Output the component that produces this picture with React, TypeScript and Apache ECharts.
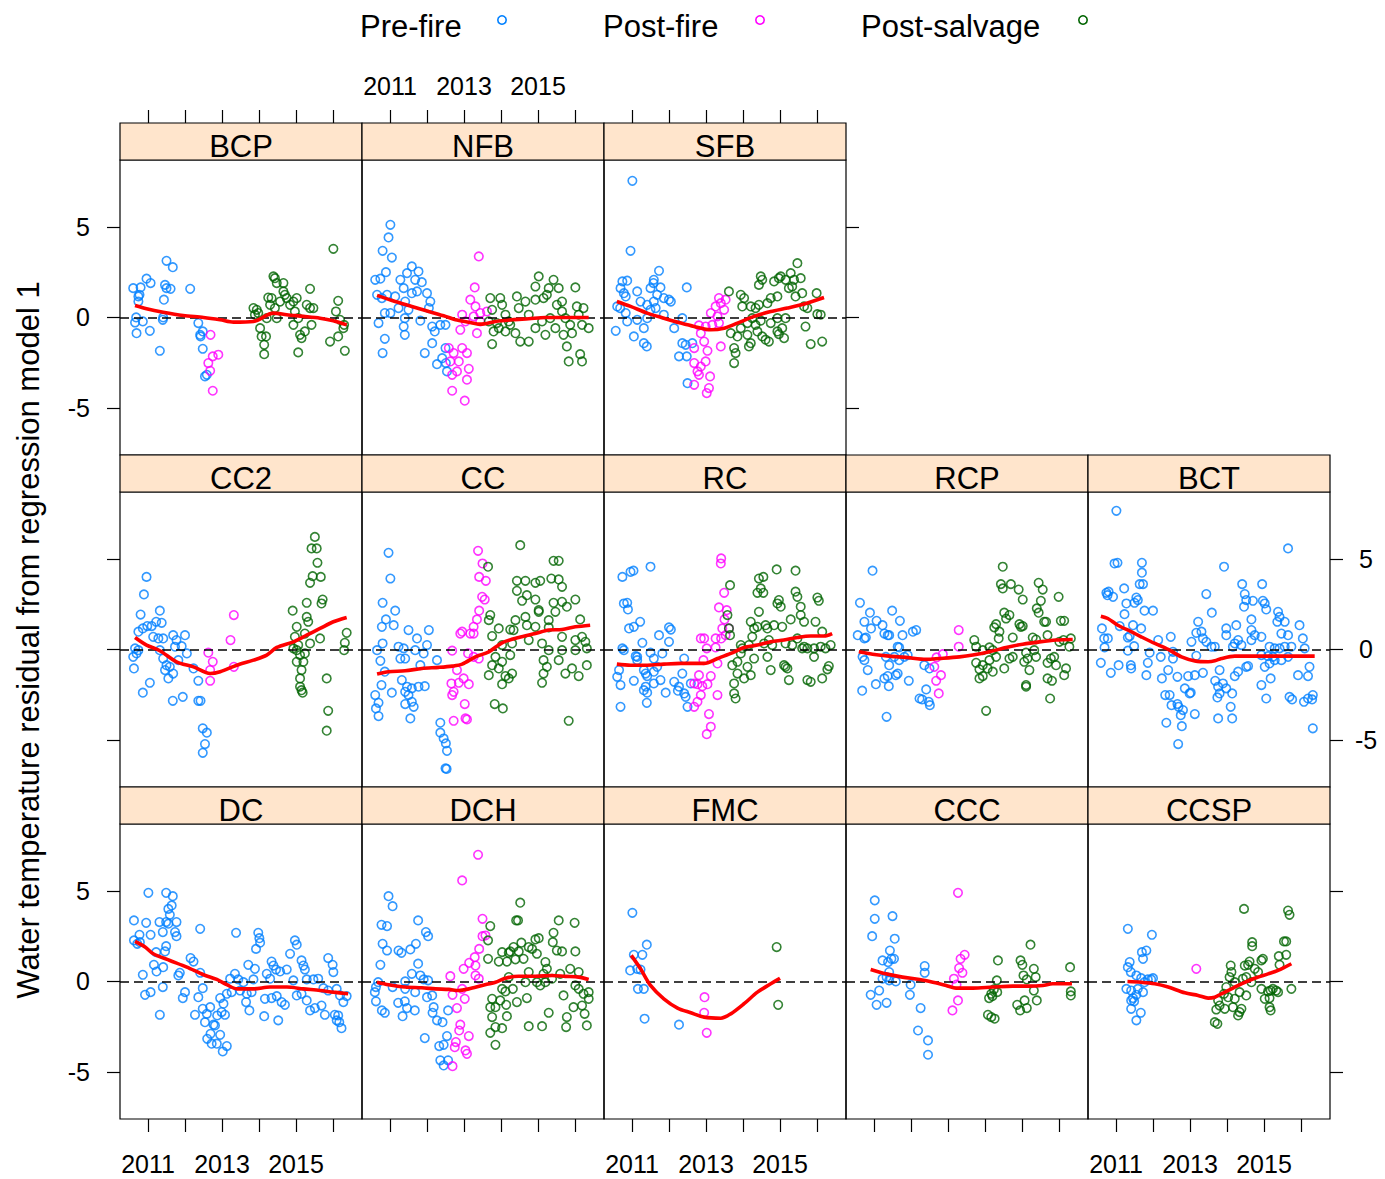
import React, { useEffect, useRef } from "react";
import * as echarts from "echarts";

type Pt = [number, number];

// ---- BCP ----
const bcpPre: Pt[] = [[2010.60,1.62],[2010.80,1.66],[2010.96,2.14],[2011.07,1.90],[2010.74,1.16],[2010.77,1.25],[2010.74,0.88],[2010.68,0.0],[2010.65,-0.28],[2010.86,-0.22],[2010.69,-0.87],[2011.05,-0.74],[2011.32,-1.84],[2011.40,-0.13],[2011.41,0.0],[2011.43,0.98],[2011.46,1.80],[2011.50,1.62],[2011.61,1.58],[2011.50,3.13],[2011.67,2.78],[2012.14,1.58],[2012.36,-0.31],[2012.48,-0.77],[2012.42,-1.05],[2012.48,-1.73],[2012.54,-3.26],[2012.59,-3.17],[2012.41,-0.96]];
const bcpPost: Pt[] = [[2012.69,-0.96],[2012.75,-2.15],[2012.90,-2.06],[2012.63,-2.52],[2012.68,-2.95],[2012.75,-4.05]];
const bcpSalvage: Pt[] = [[2013.85,0.52],[2013.94,0.42],[2013.89,0.15],[2013.98,0.24],[2014.03,-0.59],[2014.07,-1.05],[2014.19,-1.05],[2014.14,-1.51],[2014.14,-2.03],[2014.39,2.27],[2014.43,2.17],[2014.48,1.90],[2014.66,1.90],[2014.34,1.07],[2014.30,0.70],[2014.43,0.52],[2014.57,0.88],[2014.66,1.44],[2014.70,1.25],[2014.75,1.07],[2014.84,0.70],[2014.93,0.88],[2015.02,1.07],[2014.97,0.33],[2015.06,-0.04],[2014.93,-0.41],[2015.11,-0.96],[2015.15,-1.14],[2015.06,-1.93],[2015.38,1.58],[2015.29,0.70],[2015.38,0.52],[2015.47,0.52],[2015.42,-0.41],[2015.24,-0.77],[2016.01,3.79],[2016.14,0.92],[2016.08,0.33],[2016.19,-0.13],[2016.30,-0.41],[2016.28,-0.59],[2016.14,-1.05],[2015.92,-1.33],[2016.32,-1.84],[2014.21,-0.04],[2014.48,-0.04],[2014.25,1.10]];
const bcpFit: Pt[] = [[2010.65,0.66],[2010.96,0.48],[2011.41,0.29],[2011.95,0.11],[2012.50,0.0],[2012.95,-0.13],[2013.31,-0.26],[2013.85,-0.22],[2014.39,0.24],[2014.75,0.15],[2015.20,0.06],[2015.65,-0.04],[2016.01,-0.18],[2016.37,-0.41]];

// ---- NFB ----
const nfbPre: Pt[] = [[2011.01,5.12],[2010.96,4.42],[2010.80,3.68],[2011.05,3.31],[2010.60,2.08],[2010.74,2.14],[2010.89,2.50],[2010.65,1.25],[2010.78,1.07],[2010.92,1.25],[2010.86,0.24],[2010.69,-0.31],[2010.86,-1.18],[2010.80,-1.97],[2011.28,2.08],[2011.37,1.62],[2011.46,2.45],[2011.59,2.82],[2011.68,2.08],[2011.77,2.54],[2011.86,1.95],[2011.59,1.34],[2011.73,1.44],[2012.00,1.34],[2012.05,0.52],[2011.14,1.16],[2011.23,0.52],[2011.41,0.88],[2011.50,0.42],[2011.40,-0.04],[2011.37,-0.50],[2011.40,-0.96],[2011.82,-0.18],[2012.14,-0.50],[2012.21,-0.77],[2012.36,-0.41],[2012.50,-0.41],[2012.14,-1.42],[2011.94,-1.97],[2012.27,-2.58],[2012.50,-1.69],[2012.41,-2.25],[2012.54,-2.98],[2012.51,-2.52],[2011.01,0.24],[2012.09,0.88]];
const nfbPost: Pt[] = [[2013.40,3.37],[2013.29,1.66],[2013.17,0.98],[2013.31,0.61],[2012.95,0.15],[2013.26,0.06],[2013.44,0.24],[2013.04,-0.22],[2012.90,-0.68],[2013.35,-0.87],[2012.59,-1.69],[2012.72,-1.97],[2012.95,-1.69],[2013.08,-1.97],[2012.63,-2.43],[2012.86,-2.43],[2012.68,-3.17],[2012.81,-2.98],[2013.13,-2.84],[2013.08,-3.44],[2012.68,-4.05],[2013.02,-4.60],[2013.62,0.33],[2013.44,-0.22]];
const nfbSalvage: Pt[] = [[2013.71,1.07],[2013.98,1.07],[2014.03,0.70],[2013.76,0.42],[2013.67,-0.22],[2013.80,-0.77],[2013.76,-1.47],[2014.12,0.15],[2014.21,-0.22],[2014.43,1.16],[2014.48,0.52],[2014.66,0.88],[2014.75,0.15],[2014.93,1.71],[2015.02,2.27],[2014.93,0.98],[2015.15,1.07],[2015.24,1.25],[2015.29,1.62],[2015.42,2.08],[2015.56,1.62],[2015.65,0.88],[2015.51,0.70],[2015.65,0.33],[2015.74,-0.04],[2015.87,-0.41],[2016.01,1.66],[2016.05,0.61],[2016.10,0.15],[2016.19,-0.41],[2016.37,-0.59],[2015.78,-1.60],[2015.83,-2.43],[2016.14,-2.03],[2016.19,-2.43],[2014.75,-1.33],[2014.52,-1.33],[2015.20,-0.96],[2015.11,-0.22],[2014.93,-0.59],[2014.39,-0.87],[2014.12,-0.77],[2014.25,-0.41],[2013.94,-0.59],[2013.89,-0.31],[2015.33,-0.04],[2015.47,-0.59],[2015.69,-0.96],[2015.92,-0.87],[2016.23,0.52]];
const nfbFit: Pt[] = [[2010.65,1.22],[2011.14,0.88],[2011.59,0.61],[2012.05,0.33],[2012.50,0.06],[2012.77,-0.13],[2013.13,-0.26],[2013.44,-0.37],[2013.85,-0.22],[2014.30,-0.13],[2014.75,-0.07],[2015.20,0.0],[2015.65,0.0],[2016.37,0.0]];

// ---- SFB ----
const sfbPre: Pt[] = [[2011.01,7.55],[2010.96,3.68],[2010.56,-0.74],[2010.60,0.61],[2010.69,1.62],[2010.74,1.99],[2010.87,2.03],[2010.78,1.34],[2010.83,1.16],[2010.68,0.52],[2010.83,0.24],[2010.87,-0.22],[2011.14,1.44],[2011.23,0.88],[2011.05,-1.05],[2011.32,-0.59],[2011.32,-1.42],[2011.40,-1.60],[2011.41,-0.04],[2011.50,1.62],[2011.58,1.90],[2011.59,2.08],[2011.73,2.58],[2011.68,1.25],[2011.77,1.66],[2011.59,0.88],[2011.86,1.07],[2012.00,0.98],[2012.05,0.88],[2011.41,0.70],[2011.50,0.42],[2011.86,0.15],[2012.14,-0.59],[2012.36,-0.04],[2012.48,1.66],[2012.27,-2.15],[2012.36,-1.42],[2012.45,-1.51],[2012.50,-3.63],[2012.63,-1.42],[2012.48,-2.15],[2011.14,-0.13],[2011.64,0.52]];
const sfbPost: Pt[] = [[2013.35,1.07],[2013.53,0.98],[2013.26,0.61],[2013.49,0.42],[2013.13,0.24],[2013.31,0.06],[2013.17,-0.41],[2013.35,-0.31],[2012.81,-0.44],[2012.99,-0.50],[2012.86,-0.87],[2012.95,-1.33],[2012.68,-1.69],[2013.04,-1.84],[2013.40,-1.60],[2012.68,-2.52],[2012.99,-2.43],[2012.86,-2.71],[2012.77,-2.98],[2012.81,-3.17],[2013.11,-3.26],[2012.68,-3.72],[2013.08,-3.90],[2013.02,-4.18],[2013.40,0.79]];
const sfbSalvage: Pt[] = [[2013.62,1.44],[2013.94,1.25],[2014.03,1.07],[2013.98,0.61],[2014.21,0.61],[2014.34,0.52],[2014.43,0.70],[2014.48,2.27],[2014.43,1.80],[2014.52,2.08],[2014.66,0.79],[2014.75,1.07],[2014.84,1.99],[2014.93,1.16],[2014.97,2.17],[2015.02,2.27],[2015.15,2.08],[2015.24,1.62],[2015.29,2.45],[2015.33,1.71],[2015.38,2.08],[2015.47,3.00],[2015.56,2.17],[2015.60,1.34],[2015.42,1.16],[2015.65,0.61],[2015.74,0.52],[2015.99,1.34],[2016.01,0.18],[2016.10,0.15],[2015.69,-0.50],[2015.83,-1.47],[2016.14,-1.33],[2013.67,-0.87],[2013.76,-1.69],[2013.80,-1.97],[2013.76,-2.52],[2013.85,-1.05],[2013.94,-0.59],[2014.12,-0.96],[2014.21,-1.42],[2014.16,-1.60],[2014.34,-0.41],[2014.39,-0.77],[2014.52,-1.05],[2014.61,-1.23],[2014.70,-1.33],[2014.93,-0.77],[2015.06,-0.59],[2015.11,-1.14],[2014.97,-0.92],[2015.15,-0.04],[2014.93,-0.04],[2014.75,-0.31],[2014.48,-0.18],[2014.25,-0.04],[2014.12,-0.31]];
const sfbFit: Pt[] = [[2010.59,0.88],[2010.96,0.61],[2011.41,0.24],[2011.86,-0.04],[2012.32,-0.31],[2012.68,-0.50],[2013.13,-0.68],[2013.49,-0.59],[2013.85,-0.31],[2014.30,0.06],[2014.75,0.33],[2015.20,0.52],[2015.65,0.74],[2016.19,1.10]];

// ---- CC2 ----
const cc2Pre: Pt[] = [[2010.96,4.01],[2010.89,3.04],[2010.80,1.93],[2010.74,0.98],[2010.86,1.16],[2010.98,1.29],[2011.10,1.29],[2011.22,1.53],[2011.37,1.47],[2011.32,2.14],[2011.14,0.70],[2011.28,0.61],[2011.41,0.61],[2011.68,0.79],[2011.77,0.52],[2012.00,0.79],[2011.73,0.15],[2011.91,0.18],[2010.65,0.06],[2010.74,-0.04],[2010.60,-0.41],[2010.69,-0.22],[2010.62,-1.05],[2011.05,-1.84],[2010.86,-2.39],[2011.32,-0.04],[2011.41,-0.50],[2011.50,-0.87],[2011.59,-0.96],[2011.68,-1.33],[2011.55,-1.60],[2011.82,-0.59],[2012.05,-0.22],[2012.23,-1.05],[2012.36,-1.73],[2011.67,-2.84],[2011.94,-2.62],[2012.36,-2.84],[2012.42,-2.84],[2012.48,-4.36],[2012.59,-4.60],[2012.54,-5.23],[2012.48,-5.71],[2011.46,-1.14]];
const cc2Post: Pt[] = [[2013.32,1.90],[2013.23,0.52],[2012.63,-0.18],[2012.75,-0.68],[2012.68,-1.14],[2012.68,-1.73],[2013.32,-0.96]];
const cc2Salvage: Pt[] = [[2015.51,6.22],[2015.42,5.58],[2015.56,5.58],[2015.58,4.79],[2015.45,4.05],[2015.67,4.01],[2015.38,3.68],[2015.29,2.58],[2015.72,2.76],[2015.69,2.54],[2014.91,2.14],[2015.29,1.80],[2015.33,1.53],[2015.02,1.25],[2015.38,0.33],[2015.65,0.61],[2014.97,0.70],[2014.93,0.06],[2015.02,-0.04],[2015.06,0.24],[2015.11,-0.31],[2015.24,-0.22],[2015.02,-0.68],[2015.20,-0.68],[2015.15,-1.14],[2015.11,-1.60],[2015.11,-2.06],[2015.15,-2.25],[2015.18,-2.39],[2015.83,-1.60],[2015.87,-3.39],[2015.83,-4.49],[2016.37,0.92],[2016.32,0.37],[2016.30,-0.04],[2015.24,0.88]];
const cc2Fit: Pt[] = [[2010.65,0.66],[2010.96,0.24],[2011.32,-0.07],[2011.77,-0.68],[2012.23,-0.96],[2012.68,-1.33],[2012.95,-1.23],[2013.40,-0.87],[2013.85,-0.59],[2014.21,-0.31],[2014.48,0.11],[2014.93,0.42],[2015.29,0.79],[2015.65,1.16],[2016.01,1.53],[2016.37,1.77]];

// ---- CC ----
const ccPre: Pt[] = [[2010.96,5.34],[2011.01,3.92],[2010.80,2.58],[2011.14,2.14],[2010.89,1.66],[2011.10,1.34],[2010.78,1.25],[2010.80,0.33],[2011.50,1.07],[2011.73,0.61],[2012.05,1.07],[2011.23,0.15],[2011.37,0.06],[2011.28,-0.50],[2011.41,-0.50],[2011.68,-0.04],[2011.91,-0.22],[2012.00,0.24],[2011.82,-0.87],[2012.27,-0.59],[2010.74,-0.63],[2010.86,-1.23],[2010.77,-1.97],[2010.60,-2.52],[2010.69,-2.95],[2010.62,-3.26],[2010.69,-3.68],[2011.05,-2.39],[2011.32,-1.69],[2011.46,-2.06],[2011.41,-2.34],[2011.50,-2.52],[2011.59,-2.15],[2011.77,-2.06],[2011.94,-2.03],[2011.41,-3.02],[2011.59,-2.89],[2011.64,-3.17],[2011.55,-3.81],[2012.36,-4.05],[2012.36,-4.60],[2012.45,-4.92],[2012.51,-5.19],[2012.54,-5.60],[2012.50,-6.57],[2012.53,-6.60],[2010.65,-0.04]];
const ccPost: Pt[] = [[2013.38,5.45],[2013.50,4.75],[2013.41,4.01],[2013.59,3.79],[2013.49,2.91],[2013.56,2.76],[2013.41,2.14],[2013.35,1.66],[2013.26,1.25],[2013.17,0.88],[2012.95,0.98],[2012.90,0.88],[2012.68,-0.07],[2013.11,-0.22],[2013.26,-0.41],[2013.40,-0.50],[2012.81,-1.14],[2012.99,-1.60],[2012.66,-1.88],[2012.86,-1.84],[2012.72,-2.34],[2012.68,-2.52],[2013.13,-1.92],[2013.02,-3.02],[2012.72,-3.94],[2013.04,-3.81],[2013.08,-3.87],[2013.26,0.88]];
const ccSalvage: Pt[] = [[2014.52,5.76],[2013.65,4.57],[2014.43,3.79],[2014.66,3.79],[2014.93,3.68],[2015.06,3.79],[2015.36,3.92],[2015.56,3.87],[2015.42,4.90],[2015.56,4.90],[2015.65,3.46],[2014.43,3.24],[2014.70,3.00],[2014.93,2.76],[2014.57,2.69],[2015.02,2.17],[2015.42,2.58],[2015.65,2.63],[2015.78,2.36],[2016.01,2.76],[2013.71,1.90],[2013.67,1.62],[2013.94,1.16],[2014.39,1.62],[2014.66,1.80],[2014.34,1.07],[2014.25,1.10],[2014.70,1.34],[2014.93,1.25],[2015.29,1.62],[2015.47,2.08],[2016.14,1.66],[2013.76,0.74],[2014.03,0.24],[2014.30,0.33],[2014.75,0.52],[2015.11,0.33],[2015.29,1.22],[2015.65,0.70],[2016.01,0.52],[2016.19,0.70],[2016.28,0.42],[2016.32,0.06],[2016.01,-0.04],[2015.65,-0.04],[2015.29,-0.04],[2013.85,-0.41],[2014.03,-0.68],[2014.25,-0.31],[2013.76,-0.87],[2013.94,-1.05],[2013.67,-1.42],[2014.12,-1.47],[2014.30,-1.33],[2014.21,-1.60],[2014.03,-1.92],[2015.15,-0.59],[2015.24,-0.96],[2015.15,-1.33],[2015.11,-1.84],[2015.74,-1.33],[2015.92,-1.05],[2016.10,-1.47],[2016.32,-0.87],[2015.56,-0.59],[2013.83,-3.02],[2014.05,-3.26],[2015.83,-3.94],[2015.02,2.08]];
const ccFit: Pt[] = [[2010.65,-1.36],[2010.96,-1.23],[2011.41,-1.18],[2011.86,-1.05],[2012.32,-0.99],[2012.68,-0.92],[2012.95,-0.81],[2013.31,-0.41],[2013.67,-0.13],[2014.03,0.37],[2014.48,0.66],[2014.93,0.88],[2015.29,1.07],[2015.65,1.10],[2016.01,1.25],[2016.41,1.34]];

// ---- RC ----
const rcPre: Pt[] = [[2010.74,4.01],[2010.96,4.29],[2011.04,4.35],[2011.50,4.57],[2010.78,2.54],[2010.87,2.58],[2010.89,2.21],[2010.92,1.16],[2011.05,1.25],[2011.22,1.53],[2011.28,0.37],[2010.78,-0.04],[2010.74,0.06],[2011.14,-0.41],[2011.14,-0.59],[2011.10,-0.37],[2011.50,-0.18],[2011.73,0.79],[2012.00,0.42],[2012.05,1.10],[2012.00,1.22],[2011.82,-0.22],[2012.41,-0.50],[2011.59,-0.50],[2011.32,-1.14],[2011.37,-1.33],[2011.41,-1.47],[2011.59,-1.23],[2011.68,-0.96],[2010.65,-1.14],[2010.60,-1.51],[2010.69,-1.97],[2011.05,-1.73],[2011.37,-2.06],[2011.41,-2.39],[2011.32,-2.25],[2011.59,-1.88],[2011.77,-1.69],[2011.91,-2.39],[2012.14,-1.79],[2012.27,-2.06],[2012.36,-1.33],[2012.41,-2.43],[2012.45,-2.62],[2012.50,-3.17],[2011.40,-2.95],[2010.69,-3.17],[2012.59,-1.88],[2012.24,-2.28]];
const rcPost: Pt[] = [[2013.41,5.03],[2013.40,4.75],[2013.49,3.13],[2013.35,2.32],[2013.56,2.17],[2013.50,1.66],[2013.44,1.16],[2012.86,0.61],[2012.95,0.61],[2013.26,0.61],[2013.41,0.61],[2013.02,0.06],[2013.26,0.11],[2012.93,-0.59],[2013.31,-0.77],[2012.81,-1.42],[2013.13,-1.47],[2012.68,-1.88],[2012.77,-1.92],[2012.90,-2.03],[2013.04,-1.92],[2012.86,-2.52],[2012.77,-2.89],[2012.68,-3.17],[2013.31,-2.52],[2013.08,-3.57],[2013.13,-4.27],[2013.02,-4.68],[2013.62,1.16],[2013.53,0.79]];
const rcSalvage: Pt[] = [[2013.65,3.55],[2014.43,3.92],[2014.55,4.01],[2014.91,4.42],[2015.42,4.35],[2014.39,3.13],[2014.55,3.13],[2014.48,3.37],[2014.97,2.73],[2014.93,2.54],[2015.02,2.36],[2015.42,3.19],[2015.47,2.91],[2015.56,2.36],[2016.01,2.87],[2016.05,2.69],[2013.58,1.90],[2013.62,1.16],[2013.65,0.79],[2014.43,2.08],[2014.21,1.53],[2014.30,1.16],[2014.39,1.25],[2014.61,1.34],[2014.66,1.16],[2014.84,1.34],[2015.06,1.25],[2015.29,1.66],[2015.56,1.90],[2015.65,1.53],[2015.96,1.53],[2016.14,0.98],[2013.94,0.24],[2013.98,0.06],[2014.16,0.24],[2014.25,0.70],[2014.57,0.33],[2014.70,0.52],[2014.79,0.24],[2015.15,0.33],[2015.33,0.24],[2015.47,0.61],[2015.65,0.15],[2015.74,0.06],[2015.92,0.06],[2016.10,0.15],[2016.23,0.06],[2016.37,0.24],[2013.94,-0.22],[2013.85,-0.68],[2013.71,-0.87],[2013.85,-1.33],[2013.76,-1.88],[2013.76,-2.43],[2013.80,-2.71],[2014.12,-0.96],[2014.21,-1.42],[2014.30,-0.50],[2014.03,-1.60],[2014.66,-0.41],[2014.75,-1.14],[2015.11,-0.87],[2015.15,-0.96],[2015.20,-1.05],[2015.24,-1.69],[2015.74,-1.69],[2015.83,-1.79],[2016.14,-1.60],[2016.32,-0.92],[2016.28,-1.10],[2015.92,-0.41],[2015.60,0.06]];
const rcFit: Pt[] = [[2010.59,-0.81],[2010.96,-0.87],[2011.41,-0.87],[2011.86,-0.81],[2012.32,-0.77],[2012.68,-0.77],[2012.95,-0.77],[2013.31,-0.50],[2013.67,-0.22],[2014.03,0.11],[2014.39,0.24],[2014.75,0.42],[2015.11,0.52],[2015.47,0.66],[2015.83,0.74],[2016.19,0.74],[2016.41,0.88]];

// ---- RCP ----
const rcpPre: Pt[] = [[2010.96,4.35],[2010.62,2.58],[2010.89,2.03],[2011.07,1.58],[2011.49,2.14],[2011.70,1.58],[2010.74,1.53],[2011.23,1.34],[2010.92,1.16],[2010.56,0.79],[2010.74,0.61],[2010.78,0.66],[2011.28,0.88],[2011.37,0.79],[2011.41,0.79],[2011.77,0.79],[2012.05,0.98],[2012.14,1.07],[2011.64,0.15],[2011.68,0.11],[2010.69,-0.41],[2010.74,-0.59],[2010.83,-1.14],[2011.32,-0.41],[2011.41,-0.87],[2011.55,-0.41],[2011.68,-0.59],[2011.82,-0.41],[2011.91,-0.31],[2011.64,-1.33],[2011.59,-1.42],[2011.37,-1.47],[2011.28,-1.60],[2011.40,-2.03],[2011.05,-1.92],[2010.68,-2.28],[2011.94,-1.73],[2012.36,-0.87],[2012.50,-1.05],[2012.41,-2.21],[2012.23,-2.71],[2012.30,-2.76],[2012.48,-2.89],[2012.51,-3.08],[2011.34,-3.72]];
const rcpPost: Pt[] = [[2013.29,1.07],[2013.29,0.15],[2012.86,-0.26],[2012.69,-0.44],[2012.63,-0.96],[2012.81,-1.42],[2012.68,-1.73],[2012.75,-2.43]];
const rcpSalvage: Pt[] = [[2014.48,4.57],[2014.43,3.61],[2014.48,3.37],[2014.70,3.61],[2014.91,3.31],[2015.02,2.76],[2015.45,3.68],[2015.56,3.31],[2015.51,2.69],[2015.40,2.27],[2015.45,2.03],[2015.99,2.91],[2016.05,1.58],[2016.14,1.58],[2014.52,2.03],[2014.57,1.71],[2014.66,1.90],[2014.30,1.40],[2014.25,1.22],[2014.39,0.98],[2014.37,0.61],[2014.75,0.66],[2014.93,1.40],[2014.97,1.25],[2015.02,1.29],[2015.29,0.66],[2015.38,0.55],[2015.60,1.53],[2015.65,1.53],[2015.69,0.79],[2016.01,0.42],[2016.12,0.52],[2016.32,0.61],[2016.28,0.15],[2013.71,0.52],[2013.76,0.15],[2013.94,-0.04],[2014.12,0.11],[2014.21,-0.04],[2014.30,-0.41],[2014.12,-0.59],[2013.94,-0.87],[2013.76,-0.74],[2013.85,-1.10],[2014.07,-1.05],[2014.21,-1.23],[2013.94,-1.47],[2013.85,-1.60],[2014.52,-1.05],[2014.66,-0.50],[2014.75,-0.41],[2015.06,-0.68],[2015.15,-0.50],[2015.20,-1.14],[2015.38,-0.41],[2015.33,-0.04],[2015.11,-0.18],[2015.69,-0.74],[2015.78,-0.50],[2015.92,-0.87],[2015.87,-0.41],[2016.19,-1.05],[2016.14,-1.42],[2015.69,-1.60],[2015.81,-1.73],[2015.11,-1.97],[2015.11,-2.06],[2015.76,-2.71],[2014.03,-3.39]];
const rcpFit: Pt[] = [[2010.59,-0.13],[2010.96,-0.26],[2011.41,-0.37],[2011.86,-0.44],[2012.41,-0.55],[2012.77,-0.50],[2013.31,-0.41],[2013.67,-0.31],[2014.12,-0.13],[2014.57,0.11],[2015.02,0.29],[2015.47,0.42],[2015.92,0.52],[2016.37,0.55]];

// ---- BCT ----
const bctPre: Pt[] = [[2011.01,7.66],[2015.65,5.58],[2010.96,4.75],[2011.04,4.79],[2011.70,4.79],[2011.70,4.24],[2013.92,4.57],[2011.64,3.61],[2011.73,3.61],[2014.41,3.61],[2014.95,3.61],[2010.74,3.13],[2010.80,3.19],[2010.77,3.00],[2010.92,2.91],[2011.22,3.37],[2011.55,2.87],[2011.59,2.73],[2011.50,2.58],[2011.28,2.54],[2013.44,3.06],[2014.48,3.06],[2014.52,2.73],[2014.46,2.36],[2014.70,2.69],[2014.97,2.69],[2015.02,2.54],[2015.06,2.21],[2011.77,2.14],[2012.00,2.14],[2011.23,1.95],[2013.59,2.03],[2015.38,2.08],[2015.42,1.80],[2014.66,1.66],[2010.62,1.16],[2011.10,1.29],[2011.46,1.34],[2011.68,1.16],[2013.22,1.53],[2015.36,1.53],[2015.56,1.53],[2015.96,1.34],[2013.98,1.16],[2014.25,1.34],[2010.68,0.61],[2010.78,0.61],[2011.37,0.74],[2011.32,0.66],[2012.14,0.52],[2012.48,0.70],[2013.04,0.42],[2013.17,0.92],[2013.31,0.98],[2013.35,0.61],[2013.44,0.42],[2013.58,0.15],[2013.67,0.15],[2013.98,0.79],[2014.30,0.52],[2014.39,0.24],[2014.66,1.07],[2014.75,0.79],[2014.93,0.70],[2014.66,0.52],[2015.47,0.88],[2015.65,0.79],[2016.05,0.61],[2014.21,0.33],[2014.16,0.15],[2015.15,0.15],[2015.29,0.06],[2015.42,0.06],[2015.56,0.15],[2015.74,0.15],[2016.10,0.06],[2010.69,0.11],[2011.49,0.18],[2011.32,-0.07],[2011.91,-0.18],[2012.54,-0.13],[2010.59,-0.74],[2010.86,-1.29],[2011.07,-0.87],[2011.40,-0.87],[2011.41,-1.05],[2011.86,-0.74],[2011.82,-1.42],[2012.21,-0.41],[2012.41,-1.14],[2012.54,-0.50],[2012.24,-1.60],[2012.66,-1.51],[2012.95,-1.47],[2013.13,-1.42],[2013.17,-0.35],[2013.35,-1.29],[2013.80,-1.14],[2014.21,-1.47],[2014.30,-1.23],[2014.52,-0.96],[2014.57,-0.92],[2014.93,-0.31],[2015.11,-0.37],[2015.24,-0.41],[2015.02,-0.96],[2015.15,-0.77],[2015.29,-0.59],[2015.47,-0.59],[2015.65,-0.41],[2015.18,-1.60],[2014.93,-1.97],[2015.06,-2.71],[2015.92,-1.42],[2016.19,-1.47],[2016.23,-0.96],[2013.68,-1.73],[2013.76,-2.06],[2013.80,-2.43],[2013.89,-1.88],[2013.98,-2.15],[2014.14,-2.43],[2013.74,-2.65],[2014.10,-3.17],[2013.76,-3.81],[2014.14,-3.81],[2012.33,-2.52],[2012.45,-2.52],[2012.50,-3.08],[2012.66,-3.02],[2012.69,-3.17],[2012.81,-3.35],[2012.75,-3.63],[2012.86,-2.15],[2012.99,-2.43],[2013.02,-2.39],[2013.13,-3.57],[2012.36,-4.05],[2012.78,-4.24],[2012.68,-5.23],[2015.69,-2.62],[2015.76,-2.76],[2016.08,-2.89],[2016.19,-2.71],[2016.32,-2.52],[2016.30,-2.76],[2016.32,-4.36]];
const bctPost: Pt[] = [];
const bctSalvage: Pt[] = [];
const bctFit: Pt[] = [[2010.59,1.84],[2010.78,1.71],[2011.05,1.34],[2011.41,0.98],[2011.68,0.70],[2012.05,0.33],[2012.41,0.0],[2012.77,-0.41],[2013.13,-0.63],[2013.49,-0.68],[2013.67,-0.63],[2013.85,-0.50],[2014.21,-0.37],[2014.75,-0.37],[2015.29,-0.37],[2015.83,-0.37],[2016.37,-0.37]];

// ---- DC ----
const dcPre: Pt[] = [[2011.01,4.90],[2011.49,4.90],[2011.67,4.71],[2011.64,4.20],[2011.55,4.01],[2011.59,3.68],[2011.49,3.28],[2011.55,3.19],[2011.77,3.28],[2010.62,3.37],[2010.95,3.24],[2011.31,3.28],[2011.40,2.73],[2011.07,2.58],[2011.73,2.73],[2011.77,2.50],[2012.41,2.91],[2013.38,2.69],[2013.98,2.69],[2014.01,2.39],[2014.03,2.14],[2013.92,1.80],[2014.97,2.27],[2015.02,2.03],[2014.84,1.53],[2015.15,1.16],[2015.87,1.29],[2015.99,0.92],[2010.62,2.27],[2010.71,2.08],[2010.77,2.58],[2010.78,2.17],[2011.49,1.95],[2011.46,1.66],[2011.22,1.62],[2011.16,0.92],[2011.23,0.55],[2011.41,0.79],[2010.86,0.37],[2012.15,1.29],[2012.23,1.10],[2012.41,0.48],[2011.86,0.48],[2011.82,0.33],[2013.71,0.92],[2013.89,0.70],[2014.34,1.10],[2014.39,0.88],[2014.46,0.66],[2014.57,0.55],[2014.75,0.66],[2015.20,0.88],[2015.24,0.66],[2016.01,0.52],[2013.35,0.42],[2013.22,0.15],[2013.44,0.11],[2013.58,-0.04],[2013.85,0.11],[2014.21,0.42],[2014.30,0.15],[2014.93,0.06],[2015.29,0.11],[2015.47,0.11],[2015.60,0.15],[2015.74,-0.37],[2015.87,-0.50],[2016.10,-0.41],[2010.92,-0.74],[2011.07,-0.59],[2011.40,-0.31],[2012.00,-0.59],[2011.94,-0.92],[2012.48,-0.37],[2012.36,-0.87],[2012.95,-0.92],[2013.04,-1.23],[2013.13,-0.68],[2013.26,-0.59],[2013.49,-0.50],[2013.67,-0.68],[2013.80,-0.59],[2014.16,-0.96],[2014.34,-0.92],[2014.48,-0.81],[2014.61,-1.14],[2014.70,-1.29],[2015.02,-0.77],[2015.15,-0.68],[2015.29,-1.05],[2015.38,-1.60],[2015.51,-1.47],[2015.69,-1.33],[2015.78,-1.84],[2016.19,-0.77],[2016.28,-1.14],[2016.37,-0.81],[2013.65,-1.14],[2013.74,-1.60],[2014.14,-1.92],[2014.52,-2.15],[2011.32,-1.84],[2012.27,-1.84],[2012.48,-1.51],[2012.68,-1.42],[2012.59,-1.79],[2012.54,-2.25],[2012.77,-2.39],[2012.87,-1.88],[2012.99,-1.69],[2013.08,-1.84],[2012.60,-3.17],[2012.69,-2.89],[2012.81,-2.43],[2012.72,-3.44],[2012.86,-3.44],[2012.95,-2.95],[2013.02,-3.87],[2013.13,-3.57],[2016.05,-1.84],[2016.10,-2.15],[2016.17,-2.25],[2016.23,-2.58],[2016.14,-1.88]];
const dcPost: Pt[] = [];
const dcSalvage: Pt[] = [];
const dcFit: Pt[] = [[2010.65,2.21],[2010.92,1.90],[2011.14,1.53],[2011.59,1.16],[2012.05,0.79],[2012.50,0.37],[2012.86,0.11],[2013.13,-0.18],[2013.40,-0.41],[2013.85,-0.41],[2014.30,-0.31],[2014.75,-0.31],[2015.20,-0.41],[2015.65,-0.50],[2016.01,-0.59],[2016.41,-0.68]];

// ---- DCH ----
const dchPre: Pt[] = [[2010.96,4.71],[2011.07,4.16],[2010.77,3.13],[2010.92,3.06],[2011.76,3.37],[2011.97,2.73],[2012.03,2.50],[2010.80,2.08],[2010.92,1.71],[2011.23,1.71],[2011.31,1.58],[2011.55,1.77],[2011.70,2.08],[2010.74,0.92],[2011.76,0.98],[2011.59,0.42],[2011.82,0.33],[2011.91,0.11],[2012.03,0.06],[2011.41,0.0],[2010.68,-0.04],[2010.62,-0.31],[2010.59,-0.59],[2011.07,-0.31],[2011.41,-0.41],[2011.68,-0.59],[2012.00,-0.87],[2012.14,-0.77],[2010.62,-1.10],[2010.78,-1.60],[2010.86,-1.73],[2011.22,-1.18],[2011.40,-1.10],[2011.46,-1.47],[2011.34,-1.92],[2011.67,-1.60],[2012.18,-1.42],[2012.15,-1.73],[2012.27,-2.15],[2012.42,-2.25],[2012.57,-1.60],[2011.94,-3.13],[2012.33,-3.57],[2012.45,-3.50],[2012.54,-3.02],[2012.36,-4.36],[2012.45,-4.64],[2012.57,-4.36]];
const dchPost: Pt[] = [[2013.38,7.00],[2012.95,5.58],[2013.50,3.46],[2013.50,2.50],[2013.58,2.54],[2013.41,1.80],[2013.29,1.34],[2013.14,1.03],[2013.31,0.88],[2012.99,0.70],[2013.31,0.33],[2013.40,0.15],[2012.63,0.29],[2012.95,-0.41],[2012.69,-0.74],[2013.02,-0.96],[2012.81,-1.47],[2012.90,-2.39],[2012.87,-2.71],[2013.13,-3.02],[2012.78,-3.35],[2013.04,-3.81],[2013.08,-4.00],[2012.75,-3.63],[2012.69,-4.68]];
const dchSalvage: Pt[] = [[2014.52,4.35],[2014.41,3.37],[2014.46,3.37],[2013.71,3.06],[2013.65,2.27],[2015.56,3.37],[2015.99,3.24],[2014.93,2.32],[2015.02,2.39],[2015.42,2.69],[2015.40,2.17],[2014.55,2.14],[2014.34,1.90],[2014.25,1.66],[2014.48,1.66],[2014.21,1.58],[2014.03,1.62],[2014.75,1.90],[2014.84,1.80],[2014.97,1.53],[2015.20,1.07],[2015.24,0.70],[2015.51,1.71],[2015.65,1.66],[2016.01,1.66],[2013.94,1.10],[2014.16,1.10],[2014.39,1.22],[2014.61,1.25],[2013.65,1.25],[2015.15,0.42],[2015.87,0.70],[2016.10,0.52],[2014.21,0.24],[2014.12,-0.55],[2014.03,-0.41],[2014.66,-0.04],[2014.75,0.52],[2014.97,-0.04],[2015.06,-0.22],[2015.20,-0.04],[2015.38,0.15],[2015.60,0.42],[2016.01,-0.22],[2016.10,-0.41],[2016.23,-0.68],[2016.37,-0.59],[2013.98,-1.05],[2013.76,-0.96],[2013.85,-1.42],[2014.14,-1.29],[2014.32,-0.41],[2014.43,-1.14],[2013.71,-1.42],[2013.76,-1.97],[2013.85,-2.52],[2013.71,-2.84],[2014.03,-2.58],[2014.16,-1.92],[2013.85,-3.50],[2014.70,-0.92],[2014.75,-2.47],[2015.11,-2.47],[2015.29,-1.73],[2015.69,-0.77],[2015.78,-1.97],[2015.76,-2.52],[2015.96,-1.42],[2016.19,-1.33],[2016.26,-1.79],[2016.32,-2.43],[2016.37,-0.96]];
const dchFit: Pt[] = [[2010.65,-0.04],[2010.96,-0.18],[2011.41,-0.31],[2011.86,-0.35],[2012.23,-0.41],[2012.59,-0.44],[2012.86,-0.50],[2013.13,-0.41],[2013.49,-0.22],[2013.85,-0.04],[2014.12,0.18],[2014.48,0.29],[2014.93,0.29],[2015.38,0.33],[2015.74,0.28],[2016.10,0.24],[2016.37,0.11]];

// ---- FMC ----
const fmcPre: Pt[] = [[2011.01,3.79],[2011.40,2.03],[2011.05,1.47],[2011.28,1.47],[2010.95,0.61],[2011.14,0.70],[2011.23,0.66],[2011.16,-0.41],[2011.32,-0.41],[2011.34,-2.06],[2012.27,-2.39]];
const fmcPost: Pt[] = [[2012.96,-0.87],[2012.95,-1.73],[2013.02,-2.84]];
const fmcSalvage: Pt[] = [[2014.91,1.90],[2014.95,-1.29]];
const fmcFit: Pt[] = [[2010.98,1.44],[2011.23,0.70],[2011.50,-0.22],[2011.86,-0.96],[2012.23,-1.47],[2012.59,-1.73],[2012.95,-1.97],[2013.40,-2.03],[2013.67,-1.79],[2014.03,-1.23],[2014.39,-0.59],[2014.75,-0.13],[2015.00,0.18]];

// ---- CCC ----
const cccPre: Pt[] = [[2011.02,4.48],[2011.02,3.46],[2011.50,3.61],[2010.95,2.50],[2011.56,2.36],[2011.43,1.71],[2011.23,1.16],[2011.47,1.25],[2011.38,1.07],[2011.54,1.25],[2011.41,0.52],[2011.34,0.24],[2011.23,0.15],[2011.41,0.06],[2011.59,0.0],[2010.91,-0.74],[2011.14,-0.50],[2011.07,-1.29],[2011.34,-1.18],[2011.99,-0.18],[2011.97,-0.74],[2012.37,0.85],[2012.37,0.48],[2012.26,-1.47],[2012.19,-2.71],[2012.46,-3.26],[2012.46,-4.05]];
const cccPost: Pt[] = [[2013.27,4.90],[2013.45,1.47],[2013.34,1.25],[2013.30,0.74],[2013.39,0.48],[2013.16,0.15],[2013.23,-0.18],[2013.27,-1.05],[2013.12,-1.60]];
const cccSalvage: Pt[] = [[2014.35,1.16],[2014.32,0.06],[2014.24,-0.44],[2014.17,-0.68],[2014.11,-0.92],[2014.20,-0.81],[2014.33,-0.59],[2014.08,-1.84],[2014.17,-1.97],[2014.26,-2.06],[2014.96,1.16],[2015.01,0.92],[2015.04,0.33],[2015.23,2.03],[2015.32,0.70],[2015.37,0.24],[2015.13,0.11],[2015.32,-0.50],[2015.40,-1.05],[2015.07,-1.05],[2014.87,-1.29],[2014.95,-1.60],[2015.13,-1.47],[2016.30,0.79],[2016.32,-0.55],[2016.32,-0.77]];
const cccFit: Pt[] = [[2010.91,0.66],[2011.32,0.42],[2011.77,0.24],[2012.23,0.11],[2012.59,-0.04],[2012.95,-0.22],[2013.22,-0.37],[2013.67,-0.37],[2014.21,-0.31],[2014.75,-0.26],[2015.20,-0.26],[2015.56,-0.22],[2015.83,-0.13],[2016.35,-0.13]];

// ---- CCSP ----
const ccspPre: Pt[] = [[2011.32,2.91],[2011.97,2.58],[2011.70,1.62],[2011.82,1.71],[2011.73,1.25],[2011.37,1.07],[2011.32,0.79],[2011.40,0.52],[2011.55,0.33],[2011.68,0.18],[2011.86,0.11],[2012.00,0.18],[2011.95,0.11],[2011.28,-0.41],[2011.41,-0.50],[2011.59,-0.41],[2011.73,-0.59],[2011.55,-0.74],[2011.46,-0.92],[2011.41,-1.05],[2011.49,-1.10],[2011.41,-1.51],[2011.67,-1.73],[2011.55,-2.15],[2011.77,-0.04]];
const ccspPost: Pt[] = [[2013.17,0.70]];
const ccspSalvage: Pt[] = [[2014.46,4.01],[2015.65,3.92],[2015.69,3.68],[2014.68,2.17],[2014.68,1.95],[2015.54,2.21],[2015.60,2.21],[2015.60,1.47],[2015.40,1.40],[2014.97,1.25],[2014.93,1.16],[2014.61,1.10],[2014.57,0.92],[2014.10,0.88],[2014.12,0.52],[2014.48,0.88],[2014.75,0.70],[2015.42,0.92],[2015.74,-0.41],[2014.07,0.24],[2014.21,-0.04],[2014.43,0.15],[2014.52,0.24],[2014.66,-0.04],[2014.93,-0.41],[2015.11,-0.55],[2015.18,-0.50],[2015.24,-0.41],[2015.33,-0.50],[2015.38,-0.59],[2015.02,-0.96],[2015.15,-0.92],[2015.15,-1.42],[2015.18,-1.60],[2013.98,-0.31],[2013.92,-0.68],[2014.03,-0.87],[2014.21,-0.96],[2014.34,-0.59],[2014.52,-0.77],[2013.76,-1.05],[2013.80,-1.33],[2013.94,-1.51],[2013.71,-1.55],[2014.16,-1.42],[2014.30,-1.88],[2014.34,-1.69],[2014.39,-1.51],[2013.67,-2.25],[2013.74,-2.34],[2014.84,0.52]];
const ccspFit: Pt[] = [[2011.31,0.0],[2011.68,-0.04],[2012.05,-0.13],[2012.41,-0.31],[2012.86,-0.63],[2013.22,-0.77],[2013.49,-0.92],[2013.67,-0.87],[2013.85,-0.68],[2014.12,-0.41],[2014.39,-0.13],[2014.75,0.18],[2015.11,0.42],[2015.38,0.61],[2015.74,0.98]];

// Axis ticks and labels
const yearTicks = [2011, 2012, 2013, 2014, 2015, 2016];
const yearLabels = [2011, 2013, 2015];
const residualTicks = [-5, 0, 5];
const groupNames = ["Pre-fire", "Post-fire", "Post-salvage"];

interface Site { name: string; pre: Pt[]; post: Pt[]; salvage: Pt[]; fit: Pt[] }

const sites: Record<string, Site> = {
  BCP: { name: "BCP", pre: bcpPre, post: bcpPost, salvage: bcpSalvage, fit: bcpFit },
  NFB: { name: "NFB", pre: nfbPre, post: nfbPost, salvage: nfbSalvage, fit: nfbFit },
  SFB: { name: "SFB", pre: sfbPre, post: sfbPost, salvage: sfbSalvage, fit: sfbFit },
  CC2: { name: "CC2", pre: cc2Pre, post: cc2Post, salvage: cc2Salvage, fit: cc2Fit },
  CC: { name: "CC", pre: ccPre, post: ccPost, salvage: ccSalvage, fit: ccFit },
  RC: { name: "RC", pre: rcPre, post: rcPost, salvage: rcSalvage, fit: rcFit },
  RCP: { name: "RCP", pre: rcpPre, post: rcpPost, salvage: rcpSalvage, fit: rcpFit },
  BCT: { name: "BCT", pre: bctPre, post: bctPost, salvage: bctSalvage, fit: bctFit },
  DC: { name: "DC", pre: dcPre, post: dcPost, salvage: dcSalvage, fit: dcFit },
  DCH: { name: "DCH", pre: dchPre, post: dchPost, salvage: dchSalvage, fit: dchFit },
  FMC: { name: "FMC", pre: fmcPre, post: fmcPost, salvage: fmcSalvage, fit: fmcFit },
  CCC: { name: "CCC", pre: cccPre, post: cccPost, salvage: cccSalvage, fit: cccFit },
  CCSP: { name: "CCSP", pre: ccspPre, post: ccspPost, salvage: ccspSalvage, fit: ccspFit },
};

const panelRows = [
  ["BCP", "NFB", "SFB"],
  ["CC2", "CC", "RC", "RCP", "BCT"],
  ["DC", "DCH", "FMC", "CCC", "CCSP"],
];

// Layout and style
const FONT = "Liberation Sans, Arial, Helvetica, sans-serif";
const W = 1385;
const H = 1179;
const COL_LEFT = 120;
const COL_W = 242;
const ROW_TOP = 123;
const ROW_H = 332;
const STRIP_H = 37;
const X_MIN = 2010.243;
const X_MAX = 2016.784;
const Y_MIN = -7.6;
const Y_MAX = 8.7;
const COLORS = ["#0080ff", "#ff00ff", "#006400"];
const STRIP_BG = "#ffe5cc";
const TICK_LEN = 13;
const TICK_FONT = 25;
const MAIN_FONT = 31;

function buildOption() {
  const grid: any[] = [];
  const xAxis: any[] = [];
  const yAxis: any[] = [];
  const series: any[] = [];
  const graphic: any[] = [];

  const tickStyle = { color: "#000", width: 1.2 };
  const labelBase = { color: "#000", fontSize: TICK_FONT, fontFamily: FONT };
  const hiddenLine = { show: false, onZero: false };

  panelRows.forEach((row, r) => {
    row.forEach((key, c) => {
      const site = sites[key];
      const left = COL_LEFT + c * COL_W;
      const top = ROW_TOP + r * ROW_H;
      const isLast = c === row.length - 1;

      const gi = grid.length;
      grid.push({
        left, top: top + STRIP_H, width: COL_W, height: ROW_H - STRIP_H,
        show: true, borderColor: "#000", borderWidth: 1.2, backgroundColor: "transparent",
      });

      const xi = xAxis.length;
      xAxis.push({
        type: "value", gridIndex: gi, min: X_MIN, max: X_MAX, position: "bottom",
        axisLine: hiddenLine, splitLine: { show: false },
        axisTick: { show: r === 2, customValues: yearTicks, length: TICK_LEN, lineStyle: tickStyle },
        axisLabel: {
          ...labelBase, show: r === 2 && c % 2 === 0, customValues: yearLabels, margin: 32,
          formatter: (v: number) => String(Math.round(v)),
        },
      });

      const yi = yAxis.length;
      yAxis.push({
        type: "value", gridIndex: gi, min: Y_MIN, max: Y_MAX, position: "left",
        axisLine: hiddenLine, splitLine: { show: false },
        axisTick: { show: c === 0, customValues: residualTicks, length: TICK_LEN, lineStyle: tickStyle },
        axisLabel: { ...labelBase, show: c === 0 && r !== 1, customValues: residualTicks, margin: 30 },
      });

      if (isLast) {
        yAxis.push({
          type: "value", gridIndex: gi, min: Y_MIN, max: Y_MAX, position: "right",
          axisLine: hiddenLine, splitLine: { show: false },
          axisTick: { show: true, customValues: residualTicks, length: TICK_LEN, lineStyle: tickStyle },
          axisLabel: { ...labelBase, show: r === 1, customValues: residualTicks, margin: 36, align: "center" },
        });
      }

      // top axis sits above the strip on the first row
      if (r === 0) {
        const tg = grid.length;
        grid.push({ left, top, width: COL_W, height: ROW_H, show: false });
        xAxis.push({
          type: "value", gridIndex: tg, min: X_MIN, max: X_MAX, position: "top",
          axisLine: hiddenLine, splitLine: { show: false },
          axisTick: { show: true, customValues: yearTicks, length: TICK_LEN, lineStyle: tickStyle },
          axisLabel: {
            ...labelBase, show: c === 1, customValues: yearLabels, margin: 25,
            formatter: (v: number) => String(Math.round(v)),
          },
        });
        yAxis.push({ type: "value", gridIndex: tg, min: Y_MIN, max: Y_MAX, show: false });
      }

      const groups = [site.pre, site.post, site.salvage];
      groups.forEach((pts, k) => {
        const s: any = {
          type: "scatter", name: groupNames[k], xAxisIndex: xi, yAxisIndex: yi, data: pts,
          symbol: "circle", symbolSize: 8.5, z: 3,
          itemStyle: { color: "rgba(0,0,0,0)", borderColor: COLORS[k], borderWidth: 1.6 },
          emphasis: { disabled: true },
        };
        if (k === 0) {
          s.markLine = {
            silent: true, symbol: ["none", "none"], label: { show: false },
            lineStyle: { color: "#000", type: [9, 5], width: 1.6 },
            data: [{ yAxis: 0 }],
          };
        }
        series.push(s);
      });

      series.push({
        type: "line", xAxisIndex: xi, yAxisIndex: yi, data: site.fit, showSymbol: false,
        smooth: 0.3, z: 5, lineStyle: { color: "#ff0000", width: 3.6 }, emphasis: { disabled: true },
      });

      // strip with the site name
      graphic.push({
        type: "rect", shape: { x: left, y: top, width: COL_W, height: STRIP_H },
        style: { fill: STRIP_BG, stroke: "#000", lineWidth: 1.2 }, z: 10,
      });
      graphic.push({
        type: "text", x: left + COL_W / 2, y: top + STRIP_H / 2 + 5, z: 11,
        style: {
          text: site.name, fill: "#000", font: `${MAIN_FONT}px ${FONT}`,
          textAlign: "center", textVerticalAlign: "middle",
        },
      });
    });
  });

  // key at the top
  const keyText = [360, 603, 861];
  const keySym = [502, 760, 1083];
  groupNames.forEach((g, k) => {
    graphic.push({
      type: "text", x: keyText[k], y: 26, z: 11,
      style: { text: g, fill: "#000", font: `${MAIN_FONT}px ${FONT}`, textAlign: "left", textVerticalAlign: "middle" },
    });
    graphic.push({
      type: "circle", shape: { cx: keySym[k], cy: 20, r: 4.2 }, z: 11,
      style: { fill: "none", stroke: COLORS[k], lineWidth: 1.6 },
    });
  });

  // y-axis title
  graphic.push({
    type: "text", x: 28, y: 640, rotation: Math.PI / 2, z: 11,
    style: {
      text: "Water temperature residual from regression model 1", fill: "#000",
      font: `${MAIN_FONT}px ${FONT}`, textAlign: "center", textVerticalAlign: "middle",
    },
  });

  return {
    animation: false,
    backgroundColor: "#ffffff",
    textStyle: { fontFamily: FONT },
    grid, xAxis, yAxis, series, graphic,
  };
}

export default function App() {
  const ref = useRef<HTMLDivElement>(null);
  useEffect(() => {
    if (!ref.current) return;
    const chart = echarts.init(ref.current, undefined, { renderer: "svg" });
    chart.setOption(buildOption() as any);
    return () => chart.dispose();
  }, []);
  return (
    <div
      ref={ref}
      style={{ position: "absolute", left: 0, top: 0, width: W, height: H, background: "#fff" }}
    />
  );
}
